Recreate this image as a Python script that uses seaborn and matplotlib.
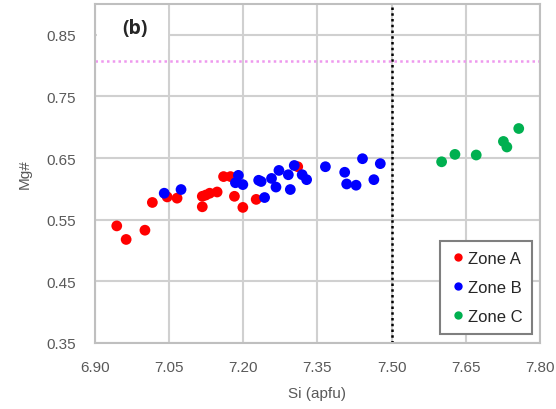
import matplotlib
matplotlib.use("Agg")
import matplotlib.pyplot as plt
import seaborn as sns
import pandas as pd
from matplotlib.lines import Line2D
from matplotlib.patches import Rectangle

zone_a_si = [6.944, 6.963, 7.001, 7.016, 7.046, 7.066, 7.117, 7.117, 7.124, 7.132, 7.147,
             7.160, 7.174, 7.182, 7.199, 7.226, 7.310]
zone_a_mg = [0.540, 0.518, 0.533, 0.578, 0.587, 0.585, 0.588, 0.571, 0.590, 0.593, 0.595,
             0.620, 0.620, 0.588, 0.570, 0.583, 0.636]
zone_b_si = [7.040, 7.074, 7.190, 7.184, 7.199, 7.231, 7.236, 7.243, 7.257, 7.266, 7.272,
             7.291, 7.295, 7.303, 7.319, 7.328, 7.366, 7.405, 7.409, 7.428, 7.441, 7.464, 7.477]
zone_b_mg = [0.593, 0.599, 0.622, 0.610, 0.607, 0.614, 0.612, 0.586, 0.617, 0.603, 0.630,
             0.623, 0.599, 0.638, 0.623, 0.615, 0.636, 0.627, 0.608, 0.606, 0.649, 0.615, 0.641]
zone_c_si = [7.601, 7.628, 7.671, 7.726, 7.733, 7.757]
zone_c_mg = [0.644, 0.656, 0.655, 0.677, 0.668, 0.698]

zones = ["Zone A", "Zone B", "Zone C"]
colors = ["#FF0000", "#0000FF", "#00B050"]
x_ticks = [6.90, 7.05, 7.20, 7.35, 7.50, 7.65, 7.80]
y_ticks = [0.35, 0.45, 0.55, 0.65, 0.75, 0.85]
si_boundary = 7.50
mg_reference = 0.808

df = pd.DataFrame({
    "Si": zone_a_si + zone_b_si + zone_c_si,
    "Mg": zone_a_mg + zone_b_mg + zone_c_mg,
    "Zone": ["Zone A"] * len(zone_a_si) + ["Zone B"] * len(zone_b_si) + ["Zone C"] * len(zone_c_si),
})

sns.set_style("white")
plt.rcParams["font.family"] = ["Liberation Sans", "DejaVu Sans"]

fig = plt.figure(figsize=(5.56, 4.10), dpi=100)
ax = fig.add_axes([95 / 556, 1 - 344 / 410, 445 / 556, 339 / 410])

grid_c = "#D0D0D0"
for xt in x_ticks:
    ax.axvline(xt, color=grid_c, lw=1.5, zorder=0)
for yt in y_ticks:
    ax.axhline(yt, color=grid_c, lw=1.5, zorder=0)

ax.axvline(si_boundary, color="black", lw=1.8, ls=(0, (1, 1.3)), zorder=1)
ax.axhline(mg_reference, color="#EE99EE", lw=1.8, ls=(0, (1, 1.3)), zorder=1)

sns.scatterplot(data=df, x="Si", y="Mg", hue="Zone", hue_order=zones,
                palette=dict(zip(zones, colors)), s=60, linewidth=0, ax=ax,
                legend=False, zorder=3)

ax.set_xlim(6.90, 7.80)
ax.set_ylim(0.35, 0.90)
ax.set_xticks(x_ticks)
ax.set_xticklabels([f"{v:.2f}" for v in x_ticks])
ax.set_yticks(y_ticks)
ax.set_yticklabels([f"{v:.2f}" for v in y_ticks])
ax.tick_params(axis="both", length=0, labelsize=11, labelcolor="#595959")
ax.tick_params(axis="x", pad=12)
ax.tick_params(axis="y", pad=14)
for sp in ax.spines.values():
    sp.set_color("#BFBFBF")
    sp.set_linewidth(1.5)

ax.set_xlabel("Si (apfu)", fontsize=11, color="#595959", labelpad=9)
ax.set_ylabel("Mg#", fontsize=11, color="#595959", labelpad=10)

# "(b)" panel label in a white box (pixel box ~ x 97-168, y 10-50)
box_l = (97 - 95) / 445
box_b = (344 - 50) / 339
ax.add_patch(Rectangle((box_l, box_b), 71 / 445, 40 / 339, transform=ax.transAxes,
                       facecolor="white", edgecolor="none", zorder=4))
ax.text((135 - 95) / 445, (344 - 29) / 339, "(b)", transform=ax.transAxes,
        fontsize=14, fontweight="bold", family=["Open Sans", "DejaVu Sans"],
        ha="center", va="center", zorder=5)

handles = [Line2D([0], [0], marker="o", color="none", markerfacecolor=c,
                  markeredgecolor="none", markersize=6) for c in colors]
leg = ax.legend(handles, zones, loc="lower right", bbox_to_anchor=(0.994, 0.012),
                fontsize=12, frameon=True, fancybox=False, handletextpad=0.15,
                handlelength=0.9, labelspacing=0.85, borderpad=0.6, borderaxespad=0.3)
leg.get_frame().set_edgecolor("#7F7F7F")
leg.get_frame().set_linewidth(1.5)
leg.get_frame().set_alpha(1)
leg.set_zorder(6)

fig.savefig("out.png", dpi=100)
